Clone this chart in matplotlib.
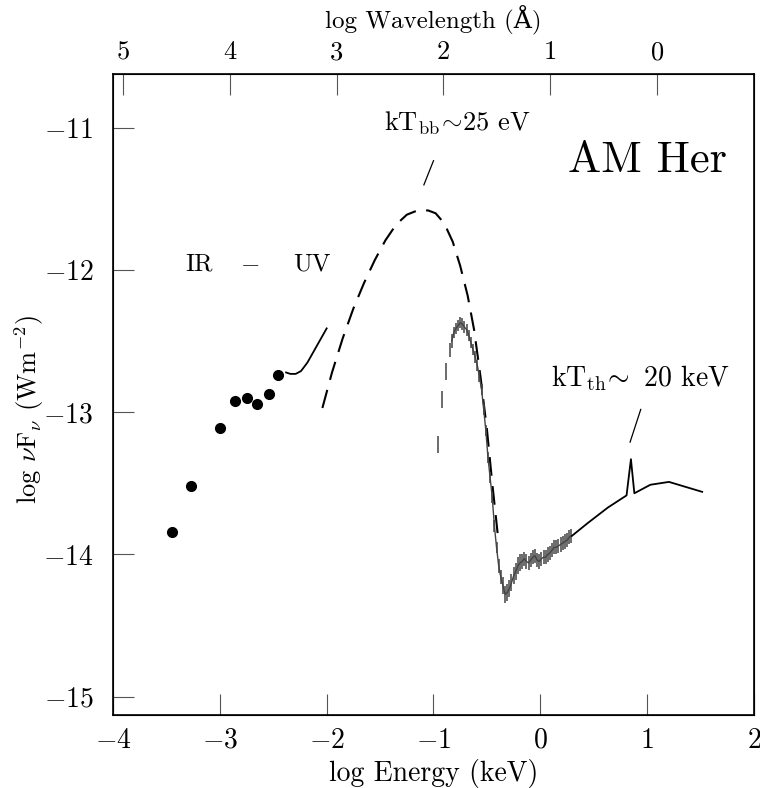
import numpy as np
import matplotlib.pyplot as plt

plt.rcParams['font.family'] = ['cmr10', 'DejaVu Serif']
plt.rcParams['mathtext.fontset'] = 'cm'
plt.rcParams['axes.formatter.use_mathtext'] = True

# IR - optical photometry (filled circles)
ir_x = [-3.45, -3.27, -3.00, -2.86, -2.75, -2.65, -2.54, -2.46]
ir_y = [-13.84, -13.52, -13.11, -12.92, -12.90, -12.94, -12.87, -12.74]

# UV spectrum (solid)
uv_x = [-2.38, -2.34, -2.29, -2.24, -2.18, -2.12, -2.06, -2.00]
uv_y = [-12.72, -12.73, -12.73, -12.71, -12.65, -12.57, -12.49, -12.41]

# blackbody component kT ~ 25 eV (dashed)
bb_x = [-2.04, -1.95, -1.85, -1.75, -1.65, -1.55, -1.45, -1.35, -1.25, -1.15,
        -1.05, -0.98, -0.90, -0.82, -0.75, -0.68, -0.62, -0.56, -0.50, -0.45, -0.40]
bb_y = [-12.97, -12.72, -12.48, -12.27, -12.09, -11.93, -11.79, -11.68, -11.61, -11.58,
        -11.58, -11.60, -11.67, -11.80, -11.97, -12.18, -12.42, -12.75, -13.12, -13.50, -13.85]

# EUV / soft X-ray data (grey error bars)
sx_x = [-0.954, -0.917, -0.882, -0.850,
        -0.83, -0.81, -0.79, -0.77, -0.75, -0.73, -0.71, -0.69, -0.67, -0.65,
        -0.63, -0.61, -0.59, -0.57, -0.55, -0.53, -0.51, -0.49, -0.47, -0.45,
        -0.43, -0.41, -0.39, -0.37, -0.35, -0.33, -0.31, -0.29, -0.27, -0.25,
        -0.23, -0.21, -0.19, -0.17, -0.15, -0.13, -0.11, -0.09, -0.07, -0.05,
        -0.03, -0.01, 0.01, 0.03, 0.05, 0.07, 0.09, 0.11, 0.13, 0.15,
        0.17, 0.19, 0.21, 0.23, 0.25, 0.27, 0.29]
sx_y = [-13.23, -12.91, -12.71, -12.56,
        -12.50, -12.44, -12.41, -12.39, -12.37, -12.38, -12.40, -12.42, -12.46, -12.51,
        -12.56, -12.61, -12.67, -12.75, -12.84, -12.98, -13.13, -13.32, -13.46, -13.60,
        -13.80, -13.95, -14.08, -14.16, -14.22, -14.28, -14.27, -14.24, -14.20, -14.15,
        -14.12, -14.08, -14.06, -14.05, -14.03, -14.05, -14.06, -14.04, -14.02, -14.01,
        -14.04, -14.05, -14.03, -14.02, -14.02, -14.00, -13.99, -13.97, -13.95, -13.95,
        -13.94, -13.93, -13.92, -13.91, -13.90, -13.88, -13.87]
sx_err = [0.06, 0.06, 0.06, 0.05,
          0.05, 0.04, 0.04, 0.04, 0.04, 0.04, 0.04, 0.04, 0.04, 0.04,
          0.04, 0.04, 0.04, 0.04, 0.04, 0.04, 0.04, 0.04, 0.04, 0.04,
          0.04, 0.04, 0.05, 0.05, 0.06, 0.06, 0.06, 0.06, 0.06, 0.06,
          0.06, 0.06, 0.06, 0.05, 0.05, 0.05, 0.05, 0.05, 0.05, 0.05,
          0.05, 0.05, 0.05, 0.05, 0.05, 0.05, 0.05, 0.05, 0.05, 0.05,
          0.05, 0.05, 0.05, 0.05, 0.05, 0.05, 0.05]

# hard X-ray thermal component kT ~ 20 keV (solid)
hx_x = [0.295, 0.443, 0.633, 0.807, 0.848, 0.880, 1.030, 1.204, 1.515]
hx_y = [-13.87, -13.78, -13.67, -13.585, -13.33, -13.57, -13.51, -13.49, -13.56]

# top axis: log wavelength (A) ticks
wl_ticks = [5, 4, 3, 2, 1, 0]

fig = plt.figure(figsize=(7.6, 7.88), dpi=100)
ax = fig.add_axes([113/760, 73/788, 641/760, 641/788])

ax.plot(ir_x, ir_y, 'o', color='black', markersize=7)
ax.plot(uv_x, uv_y, '-', color='black', linewidth=1.3)
ax.plot(bb_x, bb_y, '--', color='black', linewidth=1.5, dashes=(9, 5))
ax.errorbar(sx_x, sx_y, yerr=sx_err, fmt='none', ecolor='#444444', elinewidth=1.1)
ax.plot(sx_x[4:], sx_y[4:], '-', color='#444444', linewidth=1.0)
ax.plot(hx_x, hx_y, '-', color='black', linewidth=1.3)

ax.set_xlim(-4, 2)
ax.set_ylim(-15.13, -10.62)
ax.set_xticks([-4, -3, -2, -1, 0, 1, 2])
ax.set_yticks([-15, -14, -13, -12, -11])
ax.tick_params(direction='in', length=15, width=0.8, labelsize=20, color='#555555', pad=9)
ax.tick_params(axis='y', pad=14)
for s in ax.spines.values():
    s.set_linewidth(1.2)

ax.set_xlabel('log Energy (keV)', fontsize=20, labelpad=4)
ax.set_ylabel(r'log $\nu$F$_\nu$ (Wm$^{-2}$)', fontsize=19)
ax.yaxis.set_label_coords(-0.105, 0.476)

top = ax.twiny()
top.set_xlim(ax.get_xlim())
top.set_xticks([1.0934 - w for w in wl_ticks])
top.set_xticklabels([str(w) for w in wl_ticks])
top.tick_params(direction='in', length=15, width=0.8, labelsize=19, color='#555555', pad=7)
top.set_xlabel('log Wavelength (Å)', fontsize=18, labelpad=9)

ax.text(-0.78, -10.97, r'kT$_{\rm bb}\!\sim\!$25 eV', fontsize=19, ha='center', va='center')
ax.plot([-1.09, -1.00], [-11.40, -11.23], color='black', linewidth=0.9)
ax.text(1.0, -11.23, 'AM Her', fontsize=32, ha='center', va='center')
ax.text(-3.19, -11.96, 'IR', fontsize=18, ha='center', va='center')
ax.text(-2.72, -11.96, r'$-$', fontsize=18, ha='center', va='center')
ax.text(-2.14, -11.96, 'UV', fontsize=18, ha='center', va='center')
ax.text(0.94, -12.76, r'kT$_{\rm th}\!\sim$ 20 keV', fontsize=20, ha='center', va='center')
ax.plot([0.84, 0.94], [-13.21, -12.98], color='black', linewidth=0.9)

fig.savefig('out.png', dpi=100)
